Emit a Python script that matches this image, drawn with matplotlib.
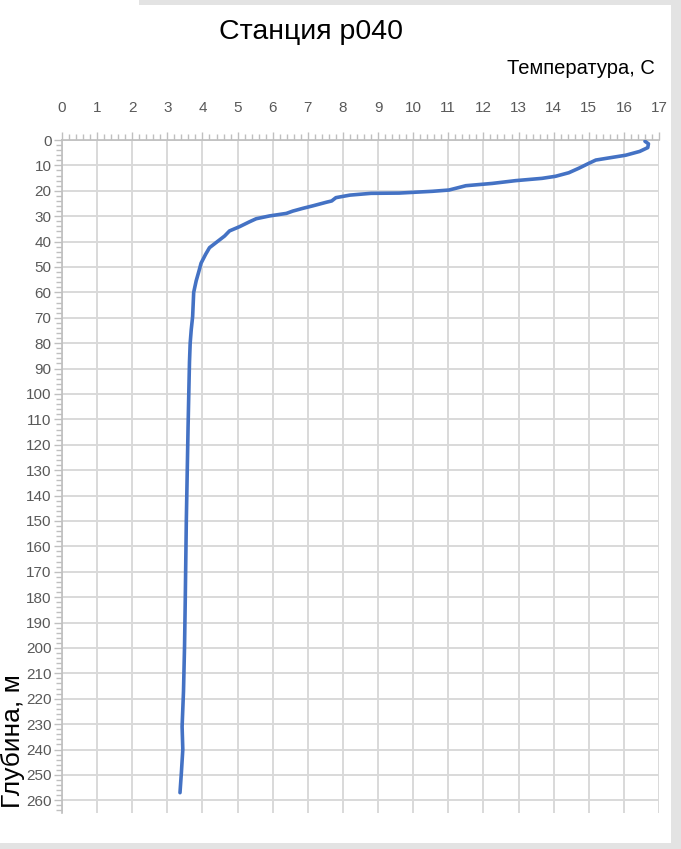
import matplotlib
matplotlib.use("Agg")
import matplotlib.pyplot as plt
from matplotlib.ticker import MultipleLocator
from matplotlib.patches import Rectangle

# Data
depth = [0.5, 1.5, 3.0, 4.5, 6.0, 7.0, 7.9, 9.2, 11.1, 12.9, 14.3, 15.1, 16.0, 17.1,
         18.0, 19.7, 20.2, 20.9, 21.0, 21.7, 22.7, 24.0, 24.5, 25.9, 26.9, 28.0,
         28.9, 29.9, 31.0, 32.2, 34.1, 35.8, 37.8, 42.4, 45.0, 48.5, 51.6, 55.5,
         60.0, 69.5, 74.7, 80.0, 87.5, 100.0, 113.0, 150.0, 181.0, 199.0, 217.0,
         231.0, 240.0, 249.0, 257.0]
temperature = [16.60, 16.70, 16.68, 16.45, 16.05, 15.60, 15.20, 15.00, 14.72, 14.43,
               14.05, 13.67, 12.92, 12.25, 11.50, 11.02, 10.55, 9.60, 8.80, 8.20,
               7.80, 7.68, 7.53, 7.15, 6.86, 6.57, 6.39, 5.91, 5.53, 5.34, 5.06,
               4.77, 4.63, 4.20, 4.09, 3.96, 3.90, 3.82, 3.75, 3.72, 3.68, 3.65,
               3.63, 3.61, 3.59, 3.54, 3.51, 3.49, 3.46, 3.42, 3.44, 3.40, 3.36]

title = "Станция р040"
xlabel = "Температура, С"
ylabel = "Глубина, м"

REG = ['Liberation Sans', 'DejaVu Sans']

W, H = 681, 849
fig = plt.figure(figsize=(W / 100, H / 100), dpi=100)
fig.patch.set_facecolor('white')

# screenshot-like light frame
for (x0, y0, w, h) in [(139, 0, W - 139, 5), (671, 0, 10, H), (0, 843, W, 6)]:
    fig.patches.append(Rectangle((x0 / W, 1 - (y0 + h) / H), w / W, h / H,
                                 transform=fig.transFigure, facecolor='#e3e3e3',
                                 edgecolor='none', zorder=0))

left, right = 62 / W, 659 / W
top, bottom = 1 - 140 / H, 1 - 813 / H
ax = fig.add_axes([left, bottom, right - left, top - bottom])

ax.plot(temperature, depth, color='#4472C4', lw=2.6, solid_capstyle='round',
        solid_joinstyle='round', zorder=3)

ax.set_xlim(0, 17)
ax.set_ylim(265, 0)
ax.xaxis.set_major_locator(MultipleLocator(1))
ax.xaxis.set_minor_locator(MultipleLocator(0.2))
ax.yaxis.set_major_locator(MultipleLocator(10))
ax.yaxis.set_minor_locator(MultipleLocator(2))
ax.xaxis.tick_top()
ax.grid(True, which='major', color='#d9d9d9', lw=1.4, zorder=0)

for s in ['right', 'bottom']:
    ax.spines[s].set_visible(False)
for s in ['top', 'left']:
    ax.spines[s].set_color('#bfbfbf')
    ax.spines[s].set_linewidth(1.2)

ax.tick_params(axis='both', which='major', direction='out', length=6,
               color='#bfbfbf', width=1.0, labelcolor='#595959', labelsize=11)
ax.tick_params(axis='both', which='minor', direction='out', length=4,
               color='#bfbfbf', width=1.0)
ax.tick_params(axis='x', which='both', top=True, bottom=False, pad=12)
ax.tick_params(axis='y', which='both', pad=1.5)
for lab in ax.get_xticklabels() + ax.get_yticklabels():
    lab.set_family(REG)

fig.text(311 / W, 1 - 32 / H, title, ha='center', va='center', fontsize=20.5,
         family=REG, color='black')
fig.text(655 / W, 1 - 68 / H, xlabel, ha='right', va='center', fontsize=14.5,
         family=REG, color='black')
fig.text(0.5 / W, 1 - 808 / H, ylabel, ha='left', va='bottom', rotation=90,
         fontsize=19, family=REG, color='black')

fig.savefig('out.png', dpi=100)
